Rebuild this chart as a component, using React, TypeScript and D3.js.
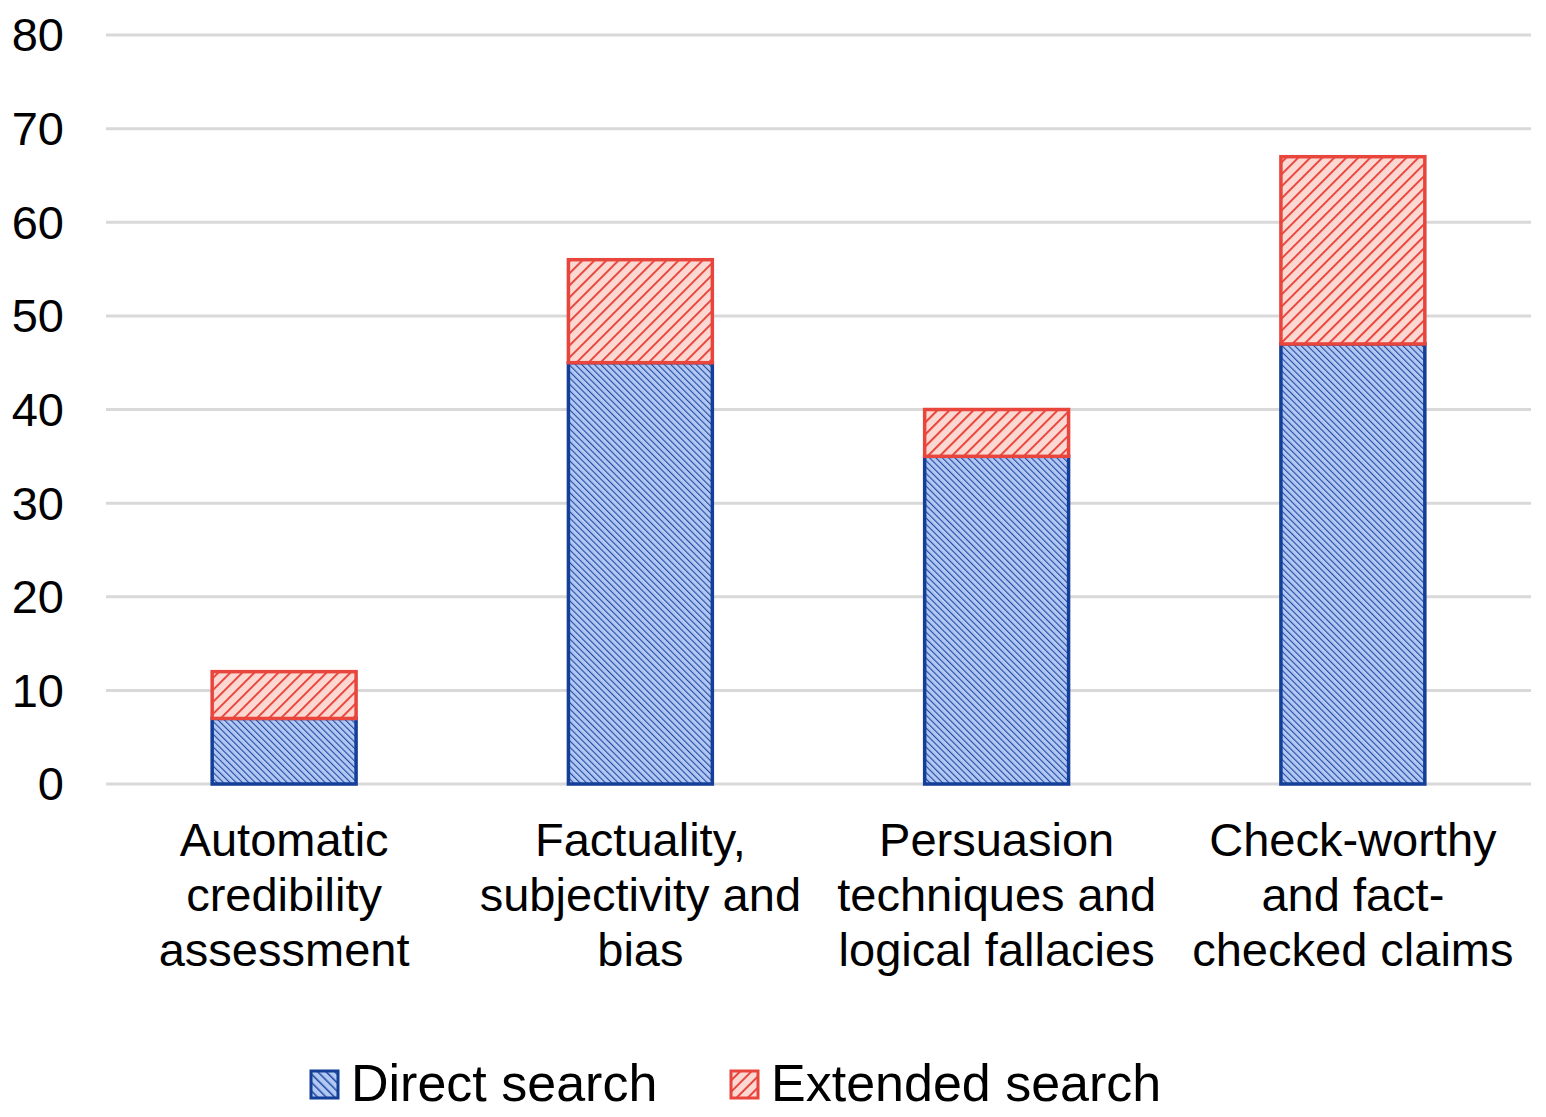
import React from "react";
import * as d3 from "d3";

const categories = [
  ["Automatic", "credibility", "assessment"],
  ["Factuality,", "subjectivity and", "bias"],
  ["Persuasion", "techniques and", "logical fallacies"],
  ["Check-worthy", "and fact-", "checked claims"],
];
const directSearch = [7, 45, 35, 47];
const extendedSearch = [5, 11, 5, 20];
const yTicks = [0, 10, 20, 30, 40, 50, 60, 70, 80];
const seriesNames = ["Direct search", "Extended search"];

const W = 1546;
const H = 1117;
const FONT = "'Liberation Sans', Arial, sans-serif";

export default function App() {
  const x = d3
    .scaleBand<number>()
    .domain(d3.range(categories.length))
    .range([106, 1531])
    .paddingInner(0.596)
    .paddingOuter(0.298);
  const y = d3.scaleLinear().domain([0, 80]).range([784, 35]);

  const stacked = d3.stack<number>().keys(["d", "e"]).value((i, k) =>
    k === "d" ? directSearch[i] : extendedSearch[i]
  )(d3.range(categories.length));

  const fills = ["url(#blueHatch)", "url(#redHatch)"];
  const lfills = ["url(#blueHatchL)", "url(#redHatchL)"];
  const strokes = ["#143f98", "#e8453c"];

  return (
    <svg
      width={W}
      height={H}
      style={{ position: "absolute", left: 0, top: 0, background: "#fff" }}
      fontFamily={FONT}
    >
      <defs>
        <pattern id="blueHatch" patternUnits="userSpaceOnUse" width={4.5} height={4.5} patternTransform="rotate(-45)">
          <rect width={4.5} height={4.5} fill="#b3c8f2" />
          <line x1={0} y1={0} x2={0} y2={4.5} stroke="#1f4aa3" strokeWidth={2.2} />
        </pattern>
        <pattern id="redHatch" patternUnits="userSpaceOnUse" width={8.5} height={8.5} patternTransform="rotate(45)">
          <rect width={8.5} height={8.5} fill="#fcd8d3" />
          <line x1={0} y1={0} x2={0} y2={8.5} stroke="#e8453c" strokeWidth={4} />
        </pattern>
        <pattern id="blueHatchL" patternUnits="userSpaceOnUse" width={6} height={6} patternTransform="rotate(-45)">
          <rect width={6} height={6} fill="#b3c8f2" />
          <line x1={0} y1={0} x2={0} y2={6} stroke="#1f4aa3" strokeWidth={3} />
        </pattern>
        <pattern id="redHatchL" patternUnits="userSpaceOnUse" width={8} height={8} patternTransform="rotate(45)">
          <rect width={8} height={8} fill="#fcd8d3" />
          <line x1={0} y1={0} x2={0} y2={8} stroke="#e8453c" strokeWidth={4} />
        </pattern>
      </defs>

      {yTicks.map((t) => (
        <g key={t}>
          <line x1={106} x2={1531} y1={y(t)} y2={y(t)} stroke="#d9d9d9" strokeWidth={3} />
          <text x={64} y={y(t)} dy="0.35em" textAnchor="end" fontSize={47} fill="#000">
            {t}
          </text>
        </g>
      ))}

      {stacked.map((layer, si) =>
        layer.map((d, i) => (
          <rect
            key={`${si}-${i}`}
            x={x(i)!}
            y={y(d[1])}
            width={x.bandwidth()}
            height={y(d[0]) - y(d[1])}
            fill={fills[si]}
            stroke={strokes[si]}
            strokeWidth={3.5}
          />
        ))
      )}

      {categories.map((lines, i) => (
        <text key={i} x={x(i)! + x.bandwidth() / 2} y={856} textAnchor="middle" fontSize={47} fill="#000">
          {lines.map((l, j) => (
            <tspan key={j} x={x(i)! + x.bandwidth() / 2} dy={j === 0 ? 0 : 55}>
              {l}
            </tspan>
          ))}
        </text>
      ))}

      <g>
        <rect x={311} y={1071} width={27} height={27} fill={lfills[0]} stroke={strokes[0]} strokeWidth={3} />
        <text x={351} y={1101} fontSize={52} fill="#000">
          {seriesNames[0]}
        </text>
        <rect x={731} y={1071} width={27} height={27} fill={lfills[1]} stroke={strokes[1]} strokeWidth={3} />
        <text x={771} y={1101} fontSize={52} fill="#000">
          {seriesNames[1]}
        </text>
      </g>
    </svg>
  );
}
